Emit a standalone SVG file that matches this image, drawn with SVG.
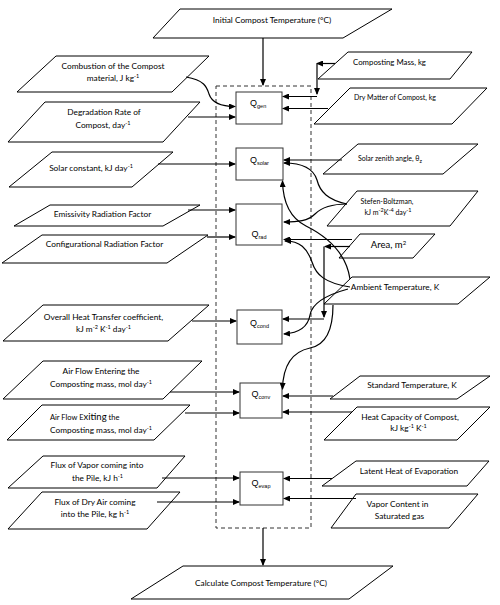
<svg xmlns="http://www.w3.org/2000/svg" width="500" height="605" viewBox="0 0 500 605">
<style>
.io{fill:#fff;stroke:#000;stroke-width:1}
.q{fill:#fff;stroke:#333;stroke-width:1}
.t{font-family:Lato,"Liberation Sans",sans-serif;font-size:8.3px;fill:#000;text-anchor:middle}
.s{font-family:Lato,"Liberation Sans",sans-serif;font-size:7px;fill:#000;text-anchor:middle}
.ql{font-family:"Liberation Sans",Arial,sans-serif;font-size:9px;fill:#000}
.sub{font-size:5.5px}
.c{fill:none;stroke:#000;stroke-width:1.2;marker-end:url(#ah)}
.dash{fill:none;stroke:#333;stroke-width:1;stroke-dasharray:4 3}
</style>
<defs>
<marker id="ah" markerWidth="7" markerHeight="6" refX="6" refY="3" orient="auto" markerUnits="userSpaceOnUse">
<path d="M0,0 L7,3 L0,6 Z" fill="#000"/>
</marker>
</defs>

<rect class="dash" x="216" y="86" width="95" height="442"/>

<g id="initial">
<polygon class="io" points="180,9 392,9 343,38 153,38"/>
<text class="t" x="272" y="23">Initial Compost Temperature (°C)</text>
</g>
<g id="calculate">
<polygon class="io" points="183,566 393,566 349,599 131,599"/>
<text class="t" x="261" y="586">Calculate Compost Temperature (°C)</text>
</g>

<g id="combustion">
<polygon class="io" points="56,56 209,56 172,92 17,92"/>
<text class="t" x="113" y="68.5">Combustion of the Compost</text>
<text class="t" x="113" y="81">material, J kg<tspan class="sub" dy="-3">-1</tspan></text>
</g>
<g id="degradation">
<polygon class="io" points="45,102 200,102 163,142 8,142"/>
<text class="t" x="104" y="115">Degradation Rate of</text>
<text class="t" x="103" y="128">Compost, day<tspan class="sub" dy="-3">-1</tspan></text>
</g>
<g id="solarconst">
<polygon class="io" points="52,152 173,152 132,187 9,187"/>
<text class="t" x="91" y="171">Solar constant, kJ day<tspan class="sub" dy="-3">-1</tspan></text>
</g>
<g id="emissivity">
<polygon class="io" points="50,205 200,205 163,226 14,226"/>
<text class="t" x="102.5" y="217">Emissivity Radiation Factor</text>
</g>
<g id="configurational">
<polygon class="io" points="42,235 208,235 167,263 2,263"/>
<text class="t" x="104.5" y="247">Configurational Radiation Factor</text>
</g>
<g id="overall">
<polygon class="io" points="43,305 209,305 168,341 3,341"/>
<text class="t" x="103.5" y="319.5">Overall Heat Transfer coefficient,</text>
<text class="t" x="103.5" y="331.5">kJ m<tspan class="sub" dy="-3">-2</tspan><tspan dy="3"> K</tspan><tspan class="sub" dy="-3">-1</tspan><tspan dy="3"> day</tspan><tspan class="sub" dy="-3">-1</tspan></text>
</g>
<g id="airin">
<polygon class="io" points="43,361 202,361 163,399 3,399"/>
<text class="t" x="101" y="374">Air Flow Entering the</text>
<text class="t" x="101" y="386.5">Composting mass, mol day<tspan class="sub" dy="-3">-1</tspan></text>
</g>
<g id="airout">
<polygon class="io" points="42,405 190,405 154,440 7,440"/>
<text class="t" x="50" y="419.5" style="text-anchor:start;font-size:7.5px">Air Flow E<tspan style="font-size:9.5px">xiting</tspan> the</text>
<text class="t" x="50" y="433" style="text-anchor:start">Composting mass, mol day<tspan class="sub" dy="-3">-1</tspan></text>
</g>
<g id="fluxvapor">
<polygon class="io" points="43,456 185,456 157,488 8,488"/>
<text class="t" x="97" y="468">Flux of Vapor coming into</text>
<text class="t" x="97.5" y="481">the Pile, kJ h<tspan class="sub" dy="-3">-1</tspan></text>
</g>
<g id="fluxair">
<polygon class="io" points="42,492 180,492 147,529 8,529"/>
<text class="t" x="95" y="505">Flux of Dry Air coming</text>
<text class="t" x="95" y="517">into the Pile, kg h<tspan class="sub" dy="-3">-1</tspan></text>
</g>

<g id="compmass">
<polygon class="io" points="348,52 472,52 450,79 318,79"/>
<text class="t" x="389.5" y="64.5" style="font-size:7.8px">Composting Mass, kg</text>
</g>
<g id="drymatter">
<polygon class="io" points="350,88 487,88 452,124 314,124"/>
<text class="s" x="395" y="99.5">Dry Matter of Compost, kg</text>
</g>
<g id="zenith">
<polygon class="io" points="358,144 478,144 443,174 323,174"/>
<text class="s" x="390" y="161">Solar zenith angle, θ<tspan class="sub" dy="1.5">z</tspan></text>
</g>
<g id="stefan">
<polygon class="io" points="357,191 478,191 450,226 327,226"/>
<text class="s" x="387" y="204">Stefen-Boltzman,</text>
<text class="s" x="388" y="214.5">kJ m<tspan class="sub" dy="-3">-2</tspan><tspan dy="3">K</tspan><tspan class="sub" dy="-3">-4</tspan><tspan dy="3"> day</tspan><tspan class="sub" dy="-3">-1</tspan></text>
</g>
<g id="area">
<polygon class="io" points="360,234 435,234 413,258 339,258"/>
<text class="t" x="388.5" y="248" style="font-size:9.5px">Area, m<tspan class="sub" dy="-3.5" style="font-size:6px">2</tspan></text>
</g>
<g id="ambient">
<polygon class="io" points="352,277 490,277 458,304 324,304"/>
<text class="t" x="395" y="289.5">Ambient Temperature, K</text>
</g>
<g id="standard">
<polygon class="io" points="360,376 490,376 457,399 330,399"/>
<text class="t" x="412" y="388">Standard Temperature, K</text>
</g>
<g id="heatcap">
<polygon class="io" points="357,407 490,407 457,440 324,440"/>
<text class="t" x="410" y="420">Heat Capacity of Compost,</text>
<text class="t" x="408.5" y="431">kJ kg<tspan class="sub" dy="-3">-1</tspan><tspan dy="3"> K</tspan><tspan class="sub" dy="-3">-1</tspan></text>
</g>
<g id="latent">
<polygon class="io" points="356,461 489,461 467,486 322,486"/>
<text class="t" x="409" y="473.5">Latent Heat of Evaporation</text>
</g>
<g id="vaporcontent">
<polygon class="io" points="356,494 478,494 449,528 331,528"/>
<text class="t" x="397.5" y="507">Vapor Content in</text>
<text class="t" x="399.5" y="518.5">Saturated gas</text>
</g>

<g id="qgen">
<rect class="q" x="236" y="92" width="46" height="32"/>
<text class="ql" x="250" y="106">Q<tspan class="sub" dy="1.5">gen</tspan></text>
</g>
<g id="qsolar">
<rect class="q" x="236" y="148" width="47" height="32"/>
<text class="ql" x="250" y="163">Q<tspan class="sub" dy="1.5">solar</tspan></text>
</g>
<g id="qrad">
<rect class="q" x="236" y="204" width="46" height="41"/>
<text class="ql" x="251.5" y="237">Q<tspan class="sub" dy="1.5">rad</tspan></text>
</g>
<g id="qcond">
<rect class="q" x="237" y="310" width="45" height="34"/>
<text class="ql" x="250" y="326">Q<tspan class="sub" dy="1.5">cond</tspan></text>
</g>
<g id="qconv">
<rect class="q" x="240" y="383" width="42" height="35"/>
<text class="ql" x="251.5" y="397">Q<tspan class="sub" dy="1.5">conv</tspan></text>
</g>
<g id="qevap">
<rect class="q" x="240" y="472" width="43" height="33"/>
<text class="ql" x="251.5" y="486">Q<tspan class="sub" dy="1.5">evap</tspan></text>
</g>

<g id="connectors">
<path class="c" d="M263,38 L263,85"/>
<path class="c" d="M263,528 L263,565"/>
<path class="c" d="M186,77 C205,80 207,88 209,94 C212,103 222,106.5 235,106.5"/>
<path class="c" d="M188,117 L235,117"/>
<path class="c" d="M158,164 L235,164"/>
<path class="c" d="M188,210 L235,210"/>
<path class="c" d="M207,237 L235,237"/>
<path class="c" d="M192,321 L236,321"/>
<path class="c" d="M170,392 L239,392"/>
<path class="c" d="M185,413 L239,413"/>
<path class="c" d="M162,478 L239,478"/>
<path class="c" d="M157,502 L239,502"/>

<path class="c" d="M335,63.5 L317,63.5"/>
<path class="c" d="M317,63.5 L317,94"/>
<path class="c" d="M317,96.5 L283,96.5"/>
<path class="c" d="M328,108.5 L283,108.5"/>
<path class="c" d="M342,160 L284,160"/>
<path class="c" d="M347,204 C328,200 320,192 317,180 C313,167 300,163 284,163"/>
<path class="c" d="M347,204 C330,204 320,209 315,214 C308,221 298,222 284,222"/>
<path class="c" d="M352,239.5 L284,239.5"/>
<path class="c" d="M350,287 C325,283 316,275 312,262 C307,248 300,241 285,241"/>
<path class="c" d="M350,279 C346,252 326,236 306,226 C290,218 283,203 282.5,181"/>
<path class="c" d="M350,246.5 L325,246.5"/>
<path class="c" d="M324,246.5 L324,317"/>
<path class="c" d="M324,319 L283,319"/>
<path class="c" d="M348,289 C326,295 312,303 310,315 C308,327 298,333 284,334"/>
<path class="c" d="M333,305 C333,330 326,345 310,348 C291,352 283,366 282.5,389"/>
<path class="c" d="M333,396 L283,396"/>
<path class="c" d="M352,412 L283,412"/>
<path class="c" d="M332,478.5 L284,478.5"/>
<path class="c" d="M356,498.5 L284,498.5"/>
</g>
</svg>
